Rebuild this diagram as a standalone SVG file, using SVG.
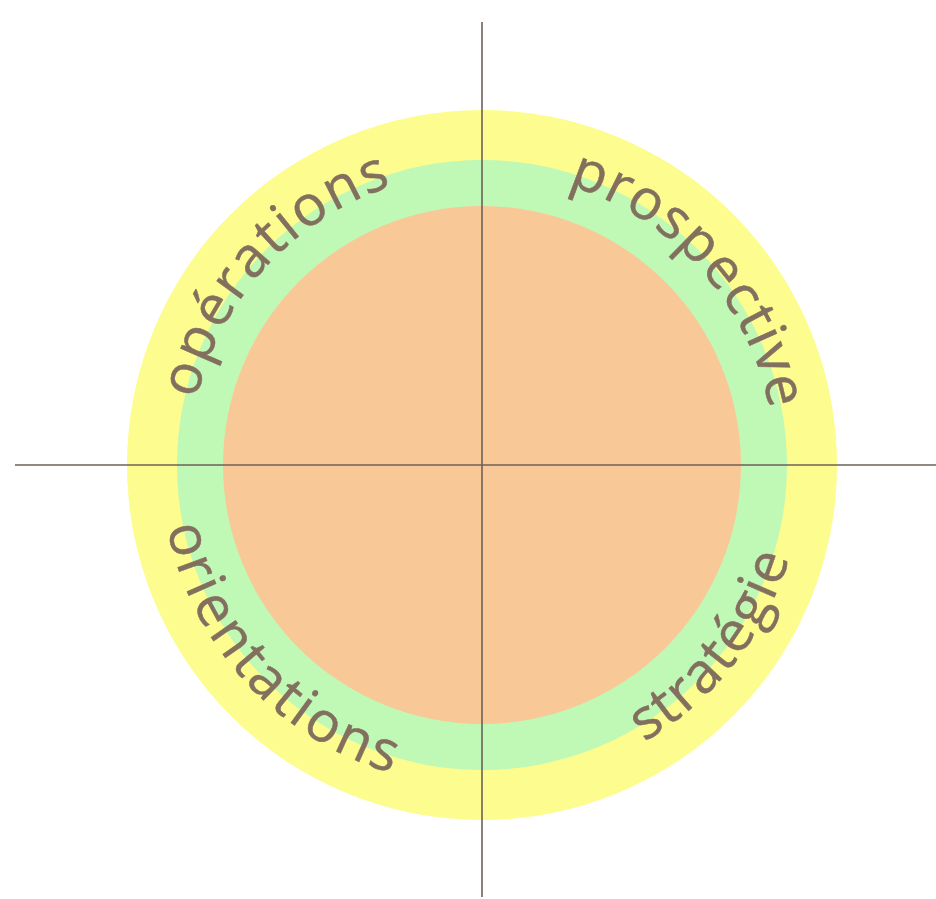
<svg xmlns="http://www.w3.org/2000/svg" width="936" height="899" viewBox="0 0 936 899">
  <style>
    .lbl { font-family: "Open Sans", "DejaVu Sans", sans-serif; font-size: 56px; fill: #826f5e; stroke: #826f5e; stroke-width: 0.5; }
    .axis { stroke: #6e6058; stroke-width: 1.6; fill: none; }
  </style>
  <defs>
    <path id="p-op" d="M189.24,476.76 A293,293 0 0 1 470.24,172.24"/>
    <path id="p-pr" d="M498.36,172.46 A293,293 0 0 1 774.54,481.36"/>
    <path id="p-or" d="M161.26,452.12 A321,321 0 0 0 469.12,785.74"/>
    <path id="p-st" d="M520.57,783.68 A321,321 0 0 0 800.68,426.43"/>
  </defs>
  <rect width="936" height="899" fill="#ffffff"/>
  <g id="rings">
    <circle id="outer" cx="482" cy="465" r="355" fill="#fdfc8e"/>
    <circle id="middle" cx="482" cy="465" r="305" fill="#c0f8b6"/>
    <circle id="inner" cx="482" cy="465" r="259" fill="#f9c897"/>
  </g>
  <g id="connectors">
    <line class="axis" x1="482" y1="22" x2="482" y2="897"/>
    <line class="axis" x1="15" y1="465" x2="936" y2="465"/>
  </g>
  <g id="operations"><text class="lbl" letter-spacing="2.2"><textPath href="#p-op" startOffset="50%" text-anchor="middle">opérations</textPath></text></g>
  <g id="prospective"><text class="lbl" letter-spacing="1.3"><textPath href="#p-pr" startOffset="50%" text-anchor="middle">prospective</textPath></text></g>
  <g id="orientations"><text class="lbl" letter-spacing="3"><textPath href="#p-or" startOffset="50%" text-anchor="middle">orientations</textPath></text></g>
  <g id="strategie"><text class="lbl" letter-spacing="1.5"><textPath href="#p-st" startOffset="50%" text-anchor="middle">stratégie</textPath></text></g>
</svg>
